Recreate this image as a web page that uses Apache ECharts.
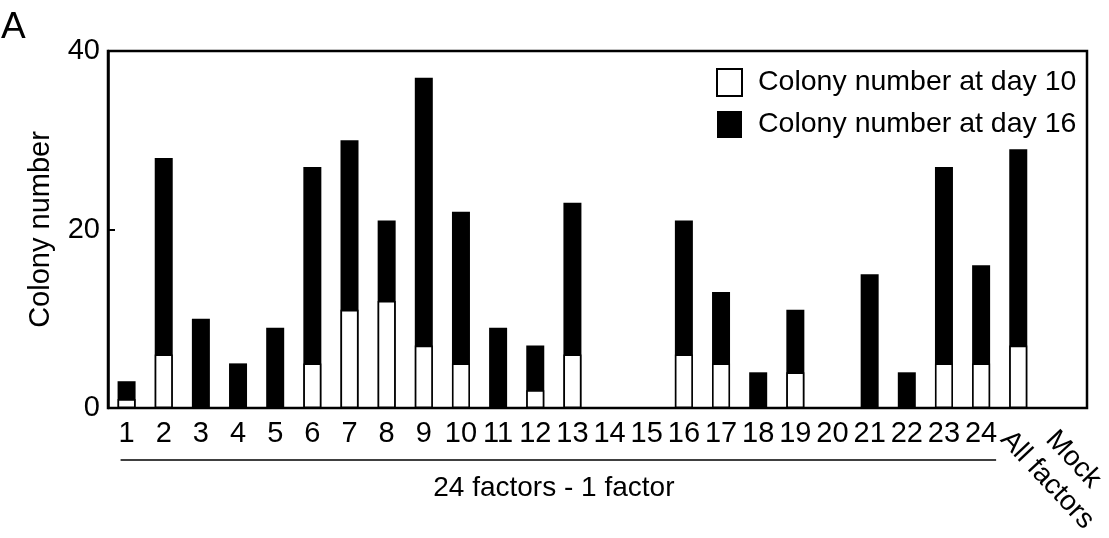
<!DOCTYPE html>
<html>
<head>
<meta charset="utf-8">
<script src="https://cdn.jsdelivr.net/npm/echarts@6/dist/echarts.min.js"></script>
<style>
html,body{margin:0;padding:0;background:#fff;}
#chart{width:1109px;height:538px;}
</style>
</head>
<body>
<div id="chart"></div>
<script>
const categories = ['1','2','3','4','5','6','7','8','9','10','11','12','13','14','15','16','17','18','19','20','21','22','23','24','All factors','Mock'];
const day16 = [3,28,10,5,9,27,30,21,37,22,9,7,23,0,0,21,13,4,11,0,15,4,27,16,29,0];
const day10 = [1,6,0,0,0,5,11,12,7,5,0,2,6,0,0,6,5,0,4,0,0,0,5,5,7,0];
const yTicks = [0,20,40];
const seriesNames = ['Colony number at day 10','Colony number at day 16'];
const rotatedLabels = ['All factors','Mock'];
const groupLabel = '24 factors - 1 factor';
const panelLabel = 'A';

const FONT = 'Liberation Sans, Arial, sans-serif';
const chart = echarts.init(document.getElementById('chart'), null, {renderer:'canvas'});

const yMin = yTicks[0], yMax = yTicks[yTicks.length-1];
const option = {
  animation: false,
  backgroundColor: '#fff',
  textStyle: {fontFamily: FONT, color: '#000'},
  grid: [
    {left: 108, right: 22, top: 51, bottom: 130, show: true, borderColor: '#000', borderWidth: 2.5, backgroundColor: 'transparent'},
    {left: 108, right: 35, top: 51, bottom: 130}
  ],
  legend: {
    data: seriesNames,
    orient: 'vertical',
    left: 711, top: 63,
    itemWidth: 25, itemHeight: 27, itemGap: 13,
    icon: 'rect',
    textStyle: {fontFamily: FONT, fontSize: 28.5, lineHeight: 27, color: '#000', padding: [0,0,0,11]}
  },
  xAxis: [
    {gridIndex: 0, type: 'value', min: 0, max: 1, show: false},
    {
      gridIndex: 1,
      type: 'category',
      data: categories,
      axisLine: {show: false},
      axisTick: {show: false},
      axisLabel: {
        interval: 0, margin: 11, fontSize: 29, color: '#000', fontFamily: FONT,
        formatter: v => rotatedLabels.includes(v) ? '' : v
      }
    }
  ],
  yAxis: [
    {
      gridIndex: 0,
      type: 'value', min: yMin, max: yMax, interval: 20,
      name: 'Colony number', nameLocation: 'middle', nameGap: 53,
      nameTextStyle: {fontSize: 29, color: '#000', fontFamily: FONT},
      axisLine: {show: true, lineStyle: {color: '#000', width: 2.5}},
      axisTick: {show: true, inside: true, length: 7, lineStyle: {color: '#000', width: 2}},
      axisLabel: {fontSize: 29, color: '#000', margin: 8, fontFamily: FONT},
      splitLine: {show: false}
    },
    {gridIndex: 1, type: 'value', min: yMin, max: yMax, show: false, splitLine: {show: false}}
  ],
  series: [
    {name: seriesNames[1], type: 'bar', xAxisIndex: 1, yAxisIndex: 1, data: day16, barWidth: 18, barGap: '-100%',
     itemStyle: {color: '#000', borderColor: '#000', borderWidth: 0}},
    {name: seriesNames[0], type: 'bar', xAxisIndex: 1, yAxisIndex: 1, data: day10, barWidth: 18, barGap: '-100%',
     itemStyle: {color: '#fff', borderColor: '#000', borderWidth: 1.6}}
  ]
};
chart.setOption(option);

// annotations placed from the category axis scale
const px = c => chart.convertToPixel({xAxisIndex: 1}, c);
const baseY = chart.convertToPixel({yAxisIndex: 1}, 0);
const x1 = px(categories[0]);
const x24 = px(categories[23]);
const labelOffsets = {'All factors': -13, 'Mock': -5};
const graphics = [
  {type: 'text', left: 1, top: 9, style: {text: panelLabel, font: '37px ' + FONT, fill: '#000'}},
  {type: 'line', shape: {x1: x1 - 6, y1: baseY + 52, x2: x24 + 15, y2: baseY + 52}, style: {stroke: '#000', lineWidth: 1.5}},
  {type: 'text', x: (x1 + x24) / 2, y: baseY + 80, style: {text: groupLabel, font: '28px ' + FONT, fill: '#000', align: 'center', verticalAlign: 'middle'}}
];
rotatedLabels.forEach(lbl => {
  graphics.push({type: 'text', x: px(lbl) + labelOffsets[lbl], y: baseY + 27, rotation: -47 * Math.PI / 180,
    style: {text: lbl, font: '28px ' + FONT, fill: '#000', align: 'left', verticalAlign: 'middle'}});
});
chart.setOption({graphic: graphics});
</script>
</body>
</html>
